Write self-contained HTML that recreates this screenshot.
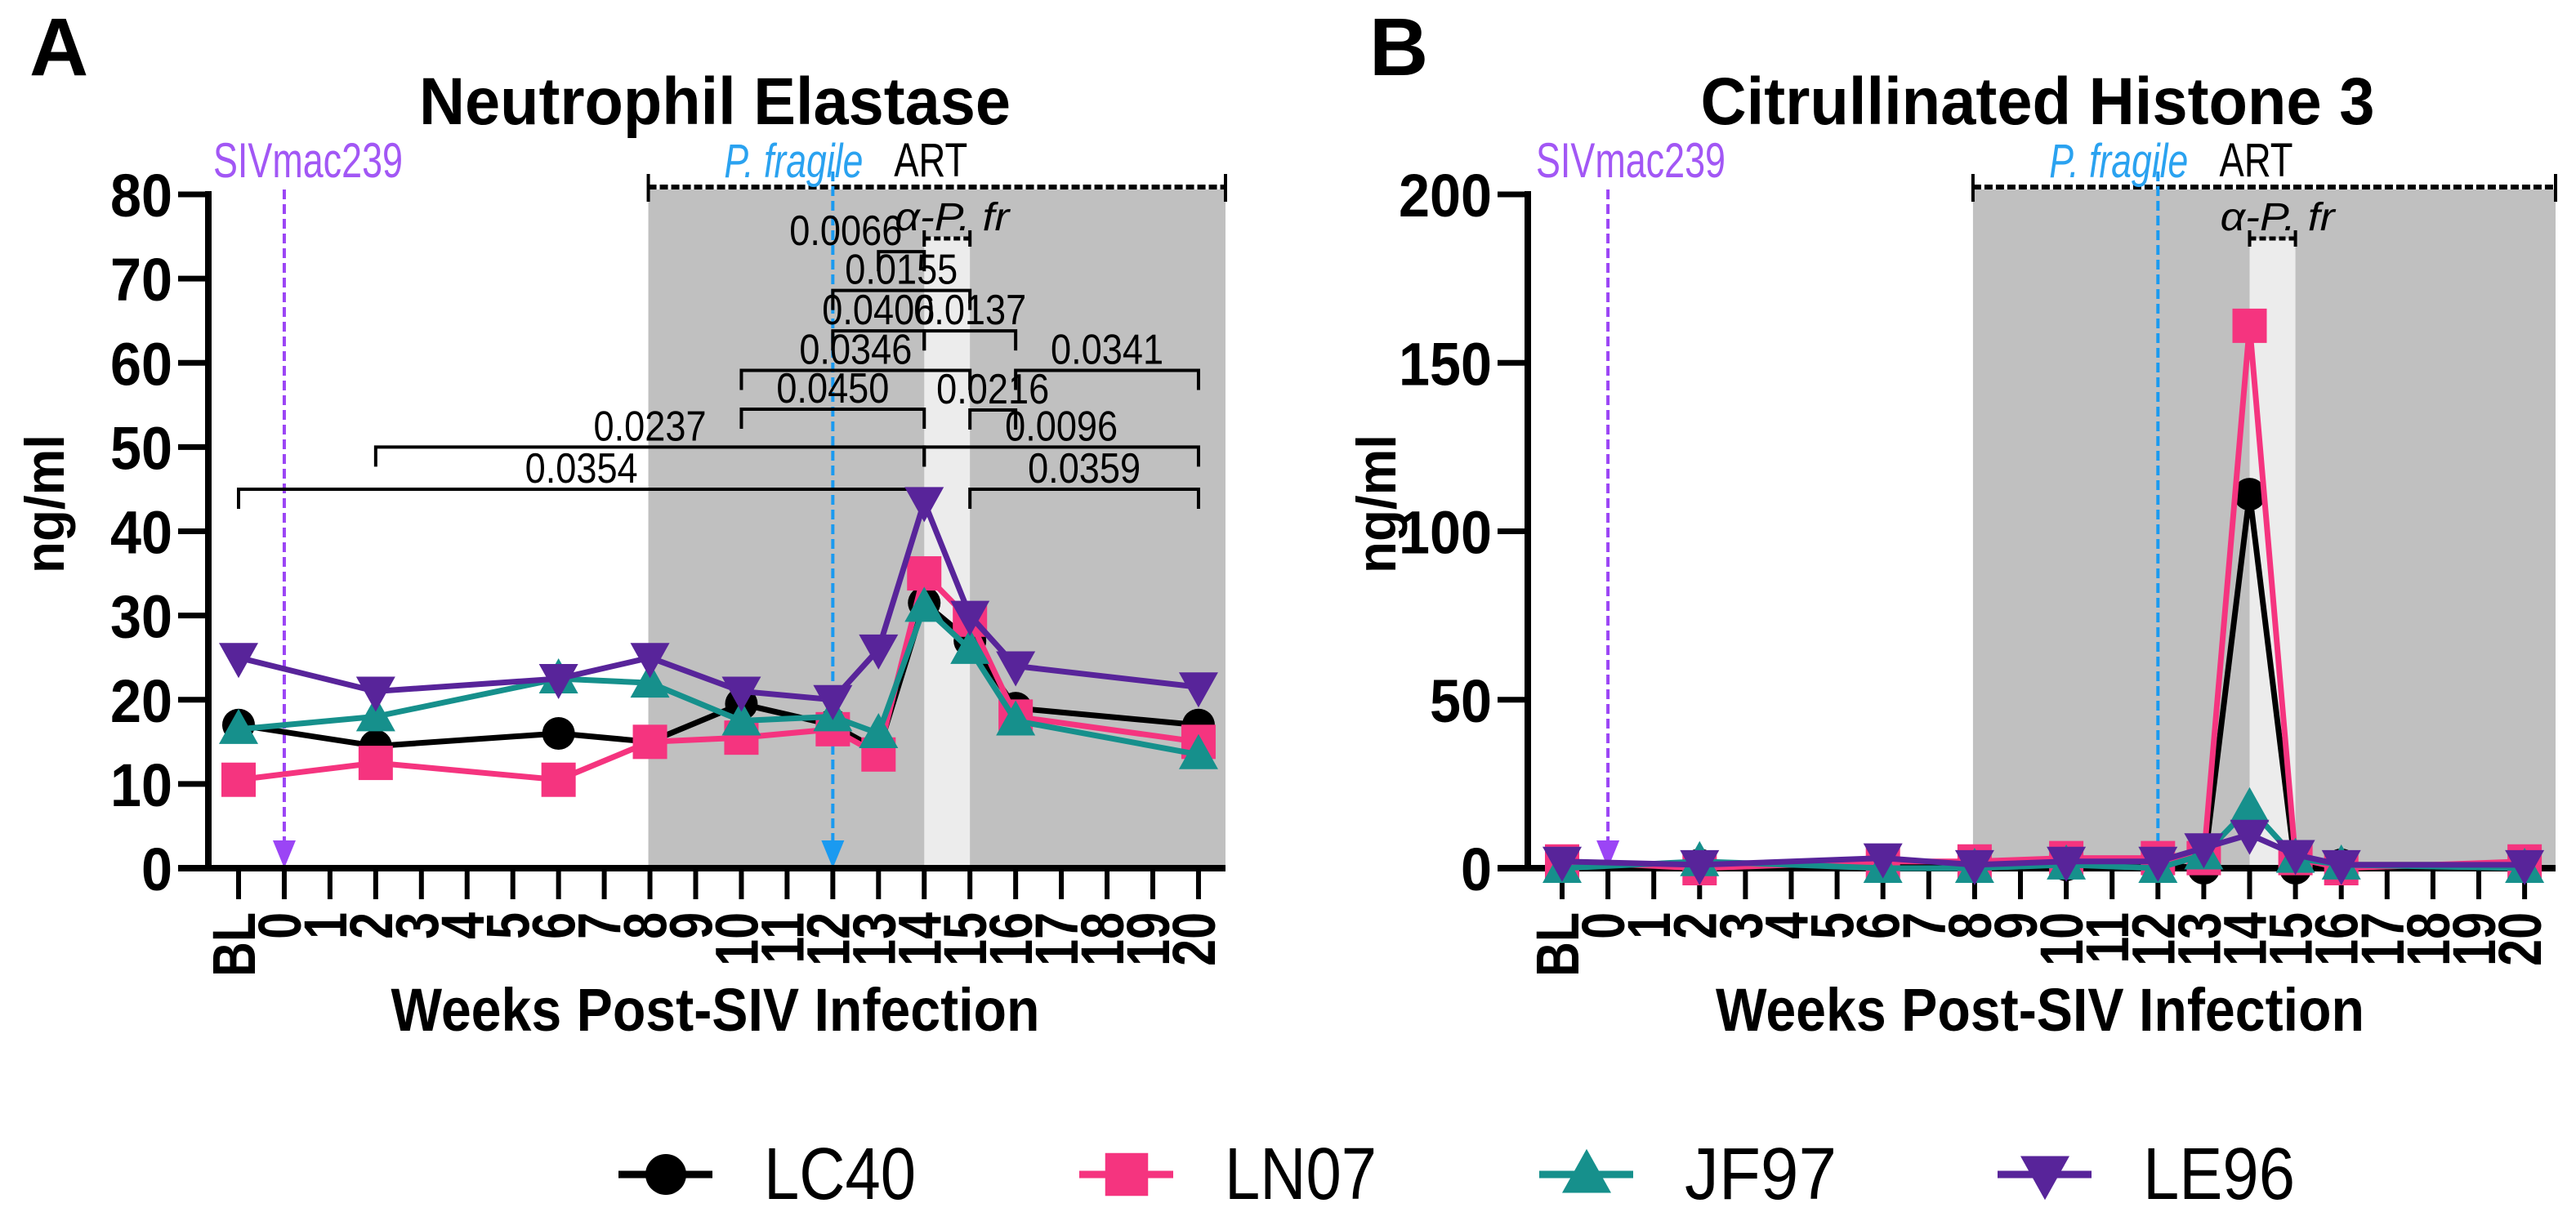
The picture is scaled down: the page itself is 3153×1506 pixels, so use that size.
<!DOCTYPE html>
<html><head><meta charset="utf-8"><style>
html,body{margin:0;padding:0;background:#fff;}
svg{display:block;font-family:"Liberation Sans",sans-serif;}
</style></head><body>
<svg id="fig" width="3153" height="1506" viewBox="0 0 3153 1506" xmlns="http://www.w3.org/2000/svg"></svg>
<script>
// ---- data ----
const weeks = ['BL',2,6,8,10,12,13,14,15,16,20];
const tickLabels = ['BL','0','1','2','3','4','5','6','7','8','9','10','11','12','13','14','15','16','17','18','19','20'];
const seriesNames = ['LC40','LN07','JF97','LE96'];
const neLC40 = [17,14.5,16,15,19.5,17,14,31.5,27,19,17];
const neLN07 = [10.5,12.5,10.5,15,15.5,16.5,13.5,35,29.5,18,15];
const neJF97 = [16.5,18,22.5,22,17.5,18,16,31,26,17.5,13.5];
const neLE96 = [25,21,22.5,25,21,20,26,43.5,30,24,21.5];
const chLC40 = [1,1,1,1,1,1,0,111,0,1,1];
const chLN07 = [2,0,2,2,3,3,3,161,3,0,2];
const chJF97 = [0,2,0,0,1,0,4,18,3,1,0];
const chLE96 = [2,1,3,1,2,2,6,10,4,1,1];
const neTicks = [0,10,20,30,40,50,60,70,80];
const chTicks = [0,50,100,150,200];
// significance brackets: [fromWeek, toWeek, level(ng/ml), label]
const sigFrom = ['BL',2,10,10,12,14,12,13,16,15,14,15];
const sigTo   = [14,14,14,15,14,16,15,14,20,16,20,20];
const sigLevel= [45,50,54.5,59.1,63.8,63.8,68.6,73.2,59.1,54.4,50,45];
const sigText = ['0.0354','0.0237','0.0450','0.0346','0.0406','0.0137','0.0155','0.0066','0.0341','0.0216','0.0096','0.0359'];

const colors = {LC40:'#000000',LN07:'#f5347f',JF97:'#16908c',LE96:'#58249a'};
const NS='http://www.w3.org/2000/svg';
const svg=document.getElementById('fig');
function mk(tag,attrs,parent,text){const e=document.createElementNS(NS,tag);for(const k in attrs)e.setAttribute(k,attrs[k]);if(text!==undefined)e.textContent=text;(parent||svg).appendChild(e);return e;}
function idx(w){return w==='BL'?0:w+1;}

function marker(g,name,x,y,s){
  const c=colors[name];let m;
  if(name==='LC40'){m=mk('circle',{cx:x,cy:y,r:20*s,fill:c},g);}
  else if(name==='LN07'){m=mk('rect',{x:x-21*s,y:y-21*s,width:42*s,height:42*s,fill:c},g);}
  else if(name==='JF97'){m=mk('polygon',{points:`${x},${y-25*s} ${x-24*s},${y+18*s} ${x+24*s},${y+18*s}`,fill:c},g);}
  else {m=mk('polygon',{points:`${x},${y+25*s} ${x-24*s},${y-18*s} ${x+24*s},${y-18*s}`,fill:c},g);}
  return m;
}

function panel(cfg){
  const g=mk('g',{});
  
  
  const X=i=>cfg.x0+i*cfg.step;
  const Y=v=>cfg.y0-(v/cfg.ymax)*(cfg.y0-cfg.ytop);
  const sh=mk('rect',{x:X(9)-2,y:232,width:cfg.axEnd-X(9)+2,height:cfg.y0-232,fill:'#c0c0c0'},g);
  
  
  const lb=mk('rect',{x:X(15),y:cfg.lightTop,width:X(16)-X(15),height:cfg.y0-cfg.lightTop,fill:'#ececec'},g);
  
  
  const art=mk('g',{},g);
  
  
  mk('line',{x1:X(9)-2,y1:229,x2:cfg.axEnd,y2:229,stroke:'#000','stroke-width':6,'stroke-dasharray':'10,4'},art);
  mk('line',{x1:X(9)-2,y1:213,x2:X(9)-2,y2:247,stroke:'#000','stroke-width':4},art);
  mk('line',{x1:cfg.axEnd,y1:213,x2:cfg.axEnd,y2:247,stroke:'#000','stroke-width':4},art);
  const at=mk('text',{x:(X(15)+X(16))/2-20,y:216,'font-size':58,'text-anchor':'middle',textLength:90,lengthAdjust:'spacingAndGlyphs'},g,'ART');
  
  
  const ap=mk('text',{x:X(15)+34,y:282,'font-size':48,'font-style':'italic','text-anchor':'middle',textLength:140,lengthAdjust:'spacingAndGlyphs'},g,'α-P. fr');
  
  
  mk('line',{x1:X(15),y1:292,x2:X(16),y2:292,stroke:'#000','stroke-width':5,'stroke-dasharray':'8,4'},g);
  mk('line',{x1:X(15),y1:282,x2:X(15),y2:302,stroke:'#000','stroke-width':4},g);
  mk('line',{x1:X(16),y1:282,x2:X(16),y2:302,stroke:'#000','stroke-width':4},g);
  const sa=mk('g',{},g);
  
  
  mk('line',{x1:X(1),y1:232,x2:X(1),y2:cfg.y0-28,stroke:'#9b45f5','stroke-width':4,'stroke-dasharray':'12,6'},sa);
  mk('polygon',{points:`${X(1)-14},${cfg.y0-34} ${X(1)+14},${cfg.y0-34} ${X(1)},${cfg.y0}`,fill:'#9b45f5'},sa);
  const st=mk('text',{x:cfg.sivX,y:217,'font-size':60,fill:'#a257f5','text-anchor':'middle',textLength:232,lengthAdjust:'spacingAndGlyphs'},g,'SIVmac239');
  
  
  const pa=mk('g',{},g);
  
  
  mk('line',{x1:X(13),y1:210,x2:X(13),y2:cfg.y0-(cfg.pfArrow?28:0),stroke:'#1a9af0','stroke-width':4,'stroke-dasharray':'12,6'},pa);
  if(cfg.pfArrow) mk('polygon',{points:`${X(13)-14},${cfg.y0-34} ${X(13)+14},${cfg.y0-34} ${X(13)},${cfg.y0}`,fill:'#1a9af0'},pa);
  const pt=mk('text',{x:X(13)-48,y:217,'font-size':58,fill:'#2aa2f0','font-style':'italic','text-anchor':'middle',textLength:170,lengthAdjust:'spacingAndGlyphs'},g,'P. fragile');
  
  
  const ax=mk('g',{},g);
  
  
  mk('line',{x1:cfg.axX,y1:cfg.ytop-4,x2:cfg.axX,y2:cfg.y0+4,stroke:'#000','stroke-width':8},ax);
  mk('line',{x1:cfg.axX-37,y1:cfg.y0,x2:cfg.axEnd,y2:cfg.y0,stroke:'#000','stroke-width':8},ax);
  cfg.ticks.forEach(t=>{
    const y=Y(t);
    mk('line',{x1:cfg.axX-37,y1:y,x2:cfg.axX,y2:y,stroke:'#000','stroke-width':7},ax);
    const s=String(t);
    const tl=mk('text',{x:cfg.axX-44,y:y+27,'font-size':74,'font-weight':'bold','text-anchor':'end',textLength:s.length*38,lengthAdjust:'spacingAndGlyphs'},ax,s);
    
    
  });
  tickLabels.forEach((lab,i)=>{
    const x=X(i);
    mk('line',{x1:x,y1:cfg.y0,x2:x,y2:cfg.y0+38,stroke:'#000','stroke-width':6},ax);
    const tl=mk('text',{transform:`translate(${x+20},1117) rotate(-90) scale(0.8,1)`,'font-size':74,'font-weight':'bold','text-anchor':'end'},ax,lab);
    
    
  });
  const xt=mk('text',{x:(cfg.axX+cfg.axEnd)/2-2,y:1262,'font-size':74,'font-weight':'bold','text-anchor':'middle',textLength:794,lengthAdjust:'spacingAndGlyphs'},g,'Weeks Post-SIV Infection');
  
  
  const yt=mk('text',{transform:`translate(${cfg.ytX},617) rotate(-90)`,'font-size':68,'font-weight':'bold','text-anchor':'middle',textLength:170,lengthAdjust:'spacingAndGlyphs'},g,'ng/ml');
  
  
  const tt=mk('text',{x:cfg.titleX,y:152,'font-size':82,'font-weight':'bold','text-anchor':'middle',textLength:cfg.titleW,lengthAdjust:'spacingAndGlyphs'},g,cfg.title);
  
  
  const pl=mk('text',{x:cfg.letterX,y:92,'font-size':100,'font-weight':'bold'},g,cfg.letter);
  
  
  if(cfg.sig){
    const sg=mk('g',{},g);
    
    
    sigFrom.forEach((f,k)=>{
      const x1=X(idx(f)),x2=X(idx(sigTo[k])),y=Y(sigLevel[k]);
      mk('path',{d:`M${x1},${y+24} V${y} H${x2} V${y+24}`,fill:'none',stroke:'#000','stroke-width':4},sg);
      let lx=(x1+x2)/2; if(sigText[k]==='0.0066') lx=x1-40;
      const lt=mk('text',{x:lx,y:y-8,'font-size':52,'text-anchor':'middle',textLength:138,lengthAdjust:'spacingAndGlyphs'},sg,sigText[k]);
      
      
    });
  }
  cfg.data.forEach((vals,si)=>{
    const name=seriesNames[si];
    const sgp=mk('g',{},g);
    
    
    const pts=vals.map((v,i)=>[X(idx(weeks[i])),Y(v)]);
    const pl2=mk('polyline',{points:pts.map(p=>p.join(',')).join(' '),fill:'none',stroke:colors[name],'stroke-width':7,'stroke-linejoin':'round'},sgp);
    
    
    pts.forEach(p=>{
      const m=marker(sgp,name,p[0],p[1],1);
      
      
    });
  });
}

panel({id:'neutrophil-elastase',x0:292,step:55.95,y0:1063,ytop:238,ymax:80,axX:255,axEnd:1500,lightTop:290,
  ticks:neTicks,data:[neLC40,neLN07,neJF97,neLE96],sig:true,pfArrow:true,sivX:377,ytX:78,
  title:'Neutrophil Elastase',titleX:875,titleW:724,letter:'A',letterX:36});
panel({id:'citrullinated-histone-3',x0:1912,step:56.1,y0:1063,ytop:238,ymax:200,axX:1870,axEnd:3128,lightTop:292,
  ticks:chTicks,data:[chLC40,chLN07,chJF97,chLE96],sig:false,pfArrow:false,sivX:1996,ytX:1708,
  title:'Citrullinated Histone 3',titleX:2494,titleW:825,letter:'B',letterX:1676});

const legX=[757,1321,1884,2445];
const lg=mk('g',{});


seriesNames.forEach((n,i)=>{
  const e=mk('g',{},lg);
  
  
  mk('line',{x1:legX[i],y1:1438,x2:legX[i]+115,y2:1438,stroke:colors[n],'stroke-width':9},e);
  marker(e,n,legX[i]+58,1438,1.25);
  const t=mk('text',{x:legX[i]+178,y:1468,'font-size':90,textLength:186,lengthAdjust:'spacingAndGlyphs'},e,n);
  
  
});
</script>
</body></html>
